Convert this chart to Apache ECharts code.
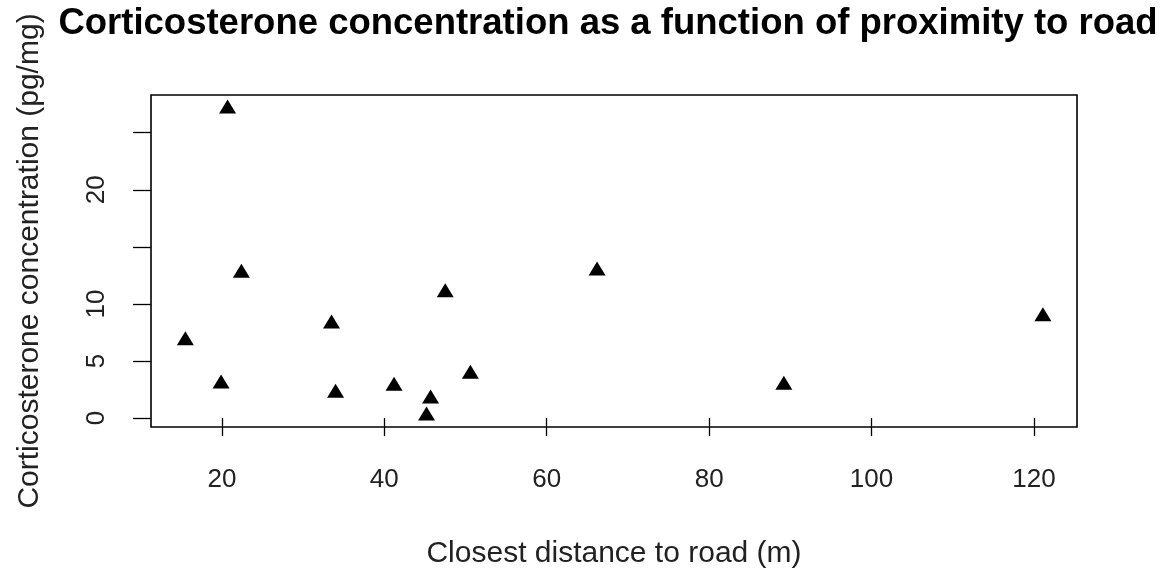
<!DOCTYPE html>
<html>
<head>
<meta charset="utf-8">
<script src="https://cdn.jsdelivr.net/npm/echarts@6/dist/echarts.min.js"></script>
<style>
html,body{margin:0;padding:0;background:#fff;}
#chart{width:1170px;height:576px;}
</style>
</head>
<body>
<div id="chart"></div>
<script>
// Data
const distance = [15.5, 19.9, 20.7, 22.4, 33.5, 34.0, 41.2, 45.2, 45.7, 47.5, 50.6, 66.2, 89.2, 121.1];
const cortico  = [7.0, 3.2, 27.3, 12.9, 8.45, 2.4, 3.0, 0.4, 1.9, 11.2, 4.05, 13.1, 3.1, 9.1];
const xTicks = [20, 40, 60, 80, 100, 120];
const yTicks = [0, 5, 10, 15, 20, 25];
const yLabels = [0, 5, 10, 20];

const points = distance.map((d, i) => [d, cortico[i]]);
const font = 'Liberation Sans, Arial, sans-serif';

const chart = echarts.init(document.getElementById('chart'), null, {renderer: 'canvas'});
chart.setOption({
  backgroundColor: '#fff',
  animation: false,
  title: {
    text: 'Corticosterone concentration as a function of proximity to road',
    left: 603, top: 0, textAlign: 'center',
    textStyle: {fontFamily: font, fontWeight: 'bold', fontSize: 36.5, color: '#000'}
  },
  grid: {left: 151, right: 93, top: 95, bottom: 149, outerBoundsMode: 'none', containLabel: false,
         show: true, borderColor: '#000', borderWidth: 1.6, backgroundColor: 'transparent'},
  xAxis: {
    type: 'value', min: 11.27, max: 125.3,
    name: 'Closest distance to road (m)', nameLocation: 'middle', nameGap: 112,
    nameTextStyle: {fontFamily: font, fontSize: 30, color: '#222'},
    axisLine: {show: false},
    axisTick: {show: true, length: 18, customValues: xTicks, lineStyle: {color: '#000', width: 1.3}},
    axisLabel: {customValues: xTicks, margin: 40, fontFamily: font, fontSize: 26, color: '#222'},
    splitLine: {show: false}
  },
  yAxis: {
    type: 'value', min: -0.78, max: 28.3,
    name: 'Corticosterone concentration (pg/mg)', nameLocation: 'middle', nameGap: 106, nameRotate: 90,
    nameTextStyle: {fontFamily: font, fontSize: 30, color: '#222'},
    axisLine: {show: false},
    axisTick: {show: true, length: 18, customValues: yTicks, lineStyle: {color: '#000', width: 1.3}},
    axisLabel: {customValues: yLabels, rotate: 90, margin: 41, fontFamily: font, fontSize: 26, color: '#222'},
    splitLine: {show: false}
  },
  series: [{
    type: 'scatter',
    data: points,
    symbol: 'triangle',
    symbolSize: [17, 14],
    itemStyle: {color: '#000', opacity: 1}
  }]
});
</script>
</body>
</html>
